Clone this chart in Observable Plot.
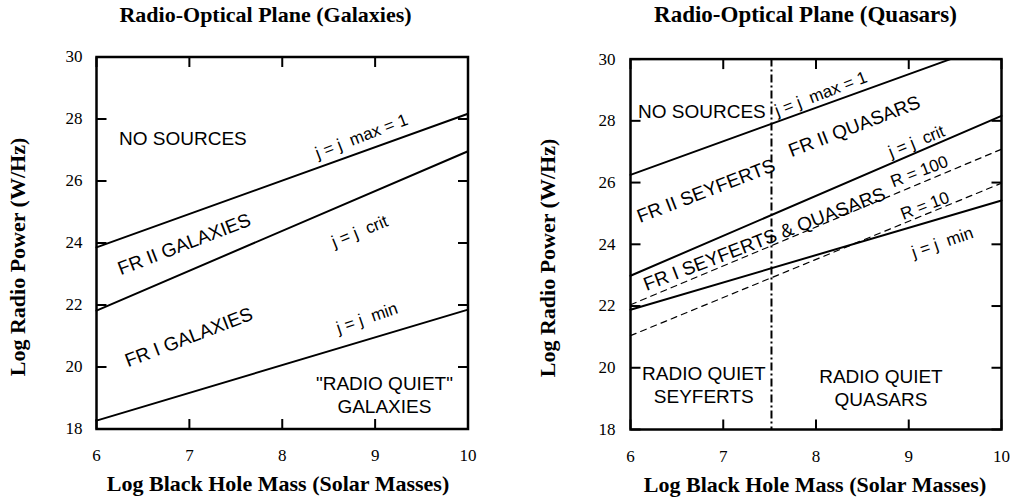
<!DOCTYPE html>
<html>
<head>
<meta charset="utf-8">
<script src="https://cdn.jsdelivr.net/npm/d3@7"></script>
<script src="https://cdn.jsdelivr.net/npm/@observablehq/plot@0.6"></script>
<style>
  html, body { margin: 0; padding: 0; background: #fff; }
  #wrap { position: relative; width: 1010px; height: 497px; overflow: hidden; background: #fff; }
  #wrap > div { position: absolute; top: 0; }
  svg { display: block; }
</style>
</head>
<body>
<div id="wrap"><div id="left" style="left:0"></div><div id="right" style="left:505px"></div></div>
<script>
// ---------- shared axes ----------
const xTicks = [6, 7, 8, 9, 10];
const yTicks = [18, 20, 22, 24, 26, 28, 30];
const massRange = [6, 10];
const xTitle = "Log Black Hole Mass (Solar Masses)";
const yTitle = "Log Radio Power (W/Hz)";

// ---------- Galaxies panel ----------
const galTitle = "Radio-Optical Plane (Galaxies)";
const galJmax  = [23.86, 28.17];
const galJcrit = [21.82, 26.96];
const galJmin  = [18.27, 21.85];
const galLabelText = ["NO SOURCES", "j = j\u00a0 max = 1", "FR II GALAXIES", "j = j\u00a0 crit",
                      "FR I GALAXIES", "j = j\u00a0 min", "\"RADIO QUIET\"\nGALAXIES"];
const galLabelX = [6.93, 8.85, 6.94, 8.83, 6.99, 8.91, 9.10];
const galLabelY = [27.40, 27.47, 23.99, 24.40, 20.99, 21.61, 19.11];

// ---------- Quasars panel ----------
const qsoTitle = "Radio-Optical Plane (Quasars)";
const qsoJmaxMass = [6, 9.45];
const qsoJmax  = [26.25, 30];
const qsoJcrit = [22.98, 28.16];
const qsoJmin  = [21.88, 25.42];
const qsoR100  = [22.04, 27.08];
const qsoR10   = [21.04, 25.98];
const seyfertQuasarDivide = [7.52];
const qsoLabelText = ["NO SOURCES", "j = j\u00a0 max = 1", "FR II QUASARS", "j = j\u00a0 crit",
                      "FR II SEYFERTS", "R = 100", "FR I SEYFERTS & QUASARS", "R = 10",
                      "j = j\u00a0 min", "RADIO QUIET\nSEYFERTS", "RADIO QUIET\nQUASARS"];
const qsoLabelX = [6.77, 8.05, 8.41, 9.08, 6.81, 9.11, 7.44, 9.17, 9.36, 6.79, 8.70];
const qsoLabelY = [28.34, 28.9, 27.85, 27.36, 25.76, 26.39, 24.20, 25.28, 24.09, 19.48, 19.37];

// ---------- drawing ----------
const SERIF = "Liberation Serif, Times New Roman, serif";
const SANS = "Liberation Sans, Arial, Helvetica, sans-serif";
const pairs = (xs, ys) => xs.map((x, i) => [x, ys[i]]);
const TICK_PX = 10;

function labelSize(t) {
  return (t.startsWith("j =") || t.startsWith("R =")) ? 17 : 19;
}
function labelAngle(t) {
  if (t === "NO SOURCES" || t.includes("RADIO QUIET")) return 0;
  if (t.includes("min")) return -19;
  if (t.includes("crit")) return -22;
  return -21;
}

function panel(o) {
  const W = 505, H = 497;
  const pw = W - o.ml - o.mr, ph = H - o.mt - o.mb;
  const idx = d3.range(o.labelText.length);
  const [x0, x1] = massRange, [y0, y1] = [yTicks[0], yTicks[yTicks.length - 1]];
  const du = TICK_PX * (x1 - x0) / pw;   // inward tick length in x units
  const dv = TICK_PX * (y1 - y0) / ph;   // inward tick length in y units
  const tk = {stroke: "black", strokeWidth: 2};
  const marks = [];
  for (const ln of o.lines) {
    marks.push(Plot.line(pairs(ln.x, ln.y), {
      stroke: "black", strokeWidth: ln.dashed ? 1.2 : 2,
      strokeDasharray: ln.dashed ? "6,5" : null
    }));
  }
  if (o.divide) {
    marks.push(Plot.ruleX(o.divide, {x: d => d, stroke: "black", strokeWidth: 2, strokeDasharray: "8,3,2,3"}));
  }
  marks.push(
    // inward ticks on all four sides
    Plot.link(yTicks, {x1: () => x0, x2: () => x0 + du, y1: d => d, y2: d => d, ...tk}),
    Plot.link(yTicks, {x1: () => x1 - du, x2: () => x1, y1: d => d, y2: d => d, ...tk}),
    Plot.link(xTicks, {x1: d => d, x2: d => d, y1: () => y0, y2: () => y0 + dv, ...tk}),
    Plot.link(xTicks, {x1: d => d, x2: d => d, y1: () => y1 - dv, y2: () => y1, ...tk}),
    Plot.text(idx, {
      x: i => o.labelX[i], y: i => o.labelY[i], text: i => o.labelText[i],
      rotate: i => labelAngle(o.labelText[i]), fontSize: i => labelSize(o.labelText[i]),
      fontFamily: SANS, fill: "black", lineHeight: 1.2, textAnchor: "middle"
    }),
    Plot.axisX(xTicks, {anchor: "bottom", tickSize: 0, tickPadding: 20, label: null,
      fontSize: 17, fontFamily: SERIF, tickFormat: d => String(d)}),
    Plot.axisY(yTicks, {anchor: "left", tickSize: 0, tickPadding: o.ypad, label: null,
      fontSize: 17, fontFamily: SERIF, tickFormat: d => String(d)}),
    Plot.frame({stroke: "black", strokeWidth: 2.5}),
    Plot.text([o.title], {text: d => d, frameAnchor: "top", dx: o.titleDx, dy: o.titleDy,
      textAnchor: "middle", lineAnchor: "bottom", fontFamily: SERIF, fontWeight: "bold",
      fontSize: o.titleSize, fill: "black"}),
    Plot.text([xTitle], {text: d => d, frameAnchor: "bottom", dx: o.xtDx, dy: o.xtDy,
      textAnchor: "middle", lineAnchor: "bottom", fontFamily: SERIF, fontWeight: "bold",
      fontSize: 22, fill: "black"}),
    Plot.text([yTitle], {text: d => d, frameAnchor: "left", rotate: -90, dx: o.ytDx, dy: o.ytDy,
      textAnchor: "middle", lineAnchor: "bottom", fontFamily: SERIF, fontWeight: "bold",
      fontSize: 22, fill: "black"})
  );
  return Plot.plot({
    width: W, height: H,
    marginLeft: o.ml, marginRight: o.mr, marginTop: o.mt, marginBottom: o.mb,
    x: {domain: massRange},
    y: {domain: [y0, y1]},
    style: {background: "white", color: "black", fontFamily: SERIF, fontSize: "17px", overflow: "visible"},
    marks
  });
}

document.getElementById("left").append(panel({
  ml: 96, mr: 37.5, mt: 56.5, mb: 68.5, ypad: 14,
  title: galTitle, titleSize: 22, titleDx: -16.75, titleDy: -35.5,
  xtDx: -4.25, xtDy: 61.5, ytDx: -71.4, ytDy: 14,
  lines: [{x: massRange, y: galJmax}, {x: massRange, y: galJcrit}, {x: massRange, y: galJmin}],
  labelText: galLabelText, labelX: galLabelX, labelY: galLabelY
}));

document.getElementById("right").append(panel({
  ml: 125, mr: 9, mt: 58.6, mb: 68, ypad: 15,
  title: qsoTitle, titleSize: 23, titleDx: -10.5, titleDy: -37,
  xtDx: -1, xtDy: 62.5, ytDx: -75.4, ytDy: 13.7,
  divide: seyfertQuasarDivide,
  lines: [{x: qsoJmaxMass, y: qsoJmax}, {x: massRange, y: qsoJcrit}, {x: massRange, y: qsoJmin},
          {x: massRange, y: qsoR100, dashed: true}, {x: massRange, y: qsoR10, dashed: true}],
  labelText: qsoLabelText, labelX: qsoLabelX, labelY: qsoLabelY
}));
</script>
</body>
</html>
